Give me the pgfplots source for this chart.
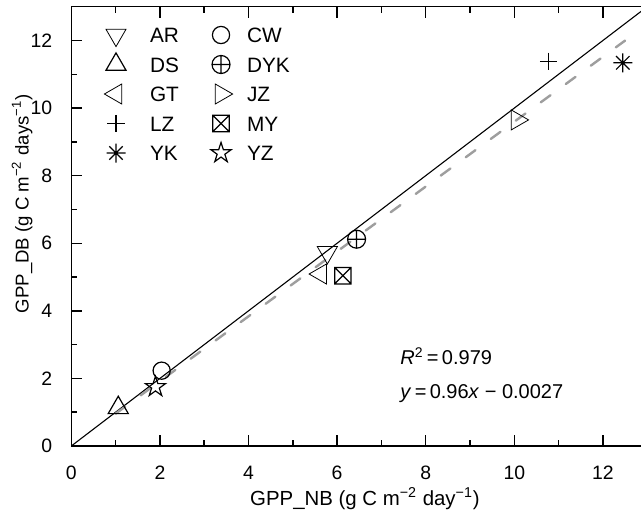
\documentclass[border=0pt]{standalone}
\usepackage{fontspec}
\setmainfont{Liberation Sans}
\usepackage{pgfplots}
\pgfplotsset{compat=1.18}

\pgfdeclareplotmark{boxx}{%
 \pgfpathrectangle{\pgfqpoint{-\pgfplotmarksize}{-\pgfplotmarksize}}{\pgfqpoint{2\pgfplotmarksize}{2\pgfplotmarksize}}%
 \pgfpathmoveto{\pgfqpoint{-\pgfplotmarksize}{-\pgfplotmarksize}}%
 \pgfpathlineto{\pgfqpoint{\pgfplotmarksize}{\pgfplotmarksize}}%
 \pgfpathmoveto{\pgfqpoint{-\pgfplotmarksize}{\pgfplotmarksize}}%
 \pgfpathlineto{\pgfqpoint{\pgfplotmarksize}{-\pgfplotmarksize}}%
 \pgfusepathqstroke}
\pgfdeclareplotmark{ostar}{%
 \pgfpathmoveto{\pgfpointpolar{90}{\pgfplotmarksize}}%
 \pgfpathlineto{\pgfpointpolar{126}{0.382\pgfplotmarksize}}%
 \pgfpathlineto{\pgfpointpolar{162}{\pgfplotmarksize}}%
 \pgfpathlineto{\pgfpointpolar{198}{0.382\pgfplotmarksize}}%
 \pgfpathlineto{\pgfpointpolar{234}{\pgfplotmarksize}}%
 \pgfpathlineto{\pgfpointpolar{270}{0.382\pgfplotmarksize}}%
 \pgfpathlineto{\pgfpointpolar{306}{\pgfplotmarksize}}%
 \pgfpathlineto{\pgfpointpolar{342}{0.382\pgfplotmarksize}}%
 \pgfpathlineto{\pgfpointpolar{18}{\pgfplotmarksize}}%
 \pgfpathlineto{\pgfpointpolar{54}{0.382\pgfplotmarksize}}%
 \pgfpathclose\pgfusepathqstroke}
\pgfdeclareplotmark{ast8}{%
 \pgfpathmoveto{\pgfqpoint{0pt}{\pgfplotmarksize}}\pgfpathlineto{\pgfqpoint{0pt}{-\pgfplotmarksize}}%
 \pgfpathmoveto{\pgfqpoint{\pgfplotmarksize}{0pt}}\pgfpathlineto{\pgfqpoint{-\pgfplotmarksize}{0pt}}%
 \pgfpathmoveto{\pgfpointpolar{45}{\pgfplotmarksize}}\pgfpathlineto{\pgfpointpolar{225}{\pgfplotmarksize}}%
 \pgfpathmoveto{\pgfpointpolar{135}{\pgfplotmarksize}}\pgfpathlineto{\pgfpointpolar{315}{\pgfplotmarksize}}%
 \pgfusepathqstroke}

\pgfplotsset{
 mk/.style={only marks, black, mark options={solid, line width=0.6pt, fill=none},
   legend image code/.code={\draw[##1] plot coordinates {(0pt,0pt)};}},
}

\begin{document}
\begin{tikzpicture}
\path[use as bounding box] (-35.65pt,-32.5pt) rectangle (284.85pt,223pt);
\begin{axis}[
 scale only axis, width=284.85pt, height=219.65pt,
 xmin=0, xmax=12.86, ymin=0, ymax=13,
 axis x line=box, axis y line=left,
 axis line style={-, line width=0.75pt, black},
 xtick={0,2,...,12}, ytick={0,2,...,12},
 minor x tick num=1, minor y tick num=1,
 tick align=inside, major tick length=5.5pt, minor tick length=3pt,
 every tick/.style={black, line width=0.75pt},
 /pgf/number format/assume math mode=true,
 tick label style={font=\fontsize{9.7}{11}\selectfont},
 xticklabel style={yshift=-6.3pt}, yticklabel style={xshift=-6pt},
 xlabel={GPP\_NB (g C m\textsuperscript{−2} day\textsuperscript{−1})},
 ylabel={GPP\_DB (g C m\textsuperscript{−2} days\textsuperscript{−1})},
 xlabel style={font=\fontsize{10.2}{12}\selectfont, at={(axis description cs:0.5155,-0.1343)}, anchor=base},
 ylabel style={font=\fontsize{9.3}{11}\selectfont, at={(axis description cs:-0.0751,0.5516)}, anchor=base, rotate=0},
 legend columns=2,
 legend cell align=left,
 legend style={at={(axis description cs:0.0581,0.9629)}, anchor=north west,
   draw=none, fill=none, inner sep=0pt, outer sep=0pt,
   font=\fontsize{10.4}{12}\selectfont, row sep=2.75pt, column sep=0pt,
   nodes={inner sep=0pt, text height=9.8pt, text depth=2.2pt},
   /tikz/column 1/.style={column sep=12pt},
   /tikz/column 2/.style={column sep=16pt},
   /tikz/column 3/.style={column sep=7.2pt}},
]
\addplot[black, line width=0.55pt, forget plot] coordinates {(0,0) (13,13)};
\addplot[black!38, line width=1.2pt, dash pattern=on 6pt off 9.5pt, line cap=round, forget plot] coordinates {(1.0,0.957) (12.5,11.997)};

\addplot[mk, mark=triangle, mark size=5.8pt, mark options={rotate=180}] coordinates {(5.78,5.73)};
\addlegendentry{AR}
\addplot[mk, mark=o, mark size=4.3pt] coordinates {(2.04,2.23)};
\addlegendentry{CW}
\addplot[mk, mark=triangle, mark size=5.8pt] coordinates {(1.06,1.13)};
\addlegendentry{DS}
\addplot[mk, mark=oplus, mark size=4.5pt] coordinates {(6.44,6.12)};
\addlegendentry{DYK}
\addplot[mk, mark=triangle, mark size=5.8pt, mark options={rotate=90}] coordinates {(5.63,5.09)};
\addlegendentry{GT}
\addplot[mk, mark=triangle, mark size=5.8pt, mark options={rotate=-90}] coordinates {(10.06,9.65)};
\addlegendentry{JZ}
\addplot[mk, mark=+, mark size=4.3pt] coordinates {(10.77,11.39)};
\addlegendentry{LZ}
\addplot[mk, mark=boxx, mark size=4.1pt] coordinates {(6.13,5.04)};
\addlegendentry{MY}
\addplot[mk, mark=ast8, mark size=4.75pt] coordinates {(12.45,11.34)};
\addlegendentry{YK}
\addplot[mk, mark=ostar, mark size=5.3pt] coordinates {(1.90,1.75)};
\addlegendentry{YZ}

\node[anchor=base west, inner sep=0pt, font=\fontsize{10}{12}\selectfont] at (axis cs:7.42,2.40) {\textit{R}\textsuperscript{2}\,=\,0.979};
\node[anchor=base west, inner sep=0pt, font=\fontsize{10}{12}\selectfont] at (axis cs:7.42,1.41) {\textit{y}\,=\,0.96\textit{x} − 0.0027};
\end{axis}
\end{tikzpicture}
\end{document}
